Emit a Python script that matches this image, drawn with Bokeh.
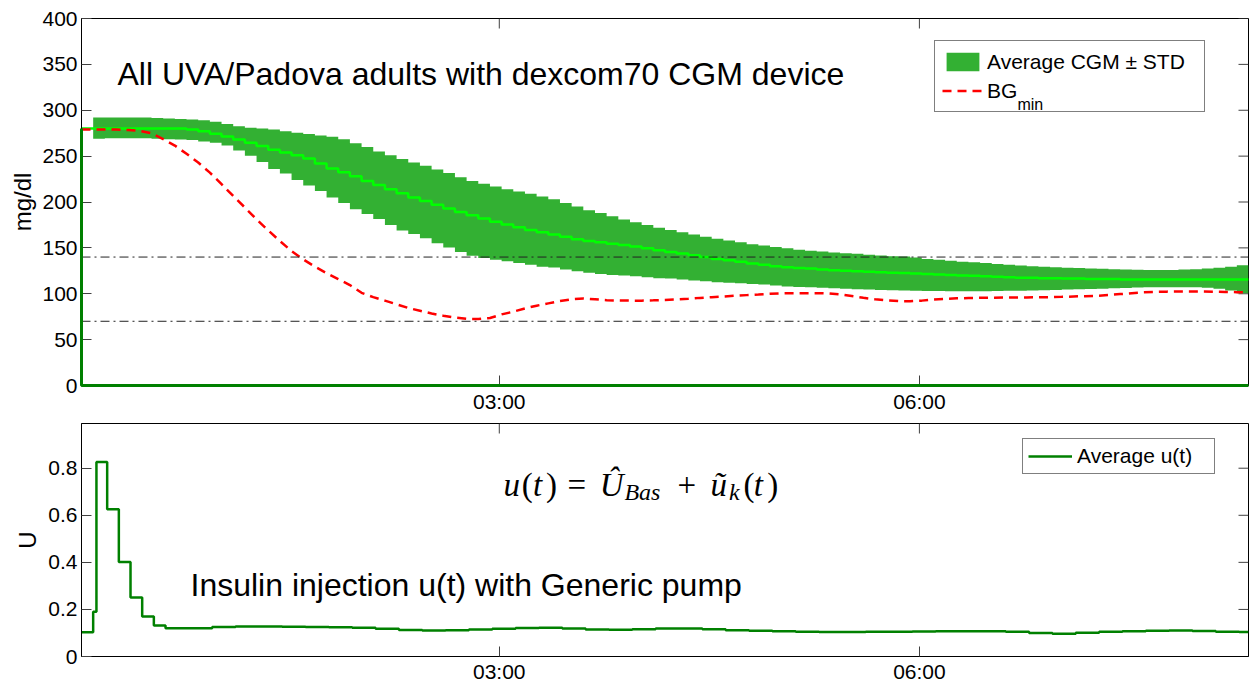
from bokeh.plotting import figure
from bokeh.models import Range1d, FixedTicker, Span, Label, Legend, LegendItem
from bokeh.layouts import column
from bokeh.embed import file_html
from bokeh.resources import INLINE

# ---------------- data ----------------
# CGM sampling times (minutes), every 5 min
t_cgm = list(range(1, 502, 5))
cgm_mean = [280, 280, 280, 280, 280, 280, 280, 280, 280, 279,
            277, 274.5, 271.5, 268, 264.5, 261, 257, 254, 251, 247.5,
            242, 236.5, 232.5, 228, 223, 218.5, 214, 209.5, 205, 201,
            197, 193, 189, 185.5, 182, 178.5, 175.5, 172.5, 169.5, 167,
            164.5, 162, 159.5, 157.5, 156, 154.5, 153, 151.5, 149.5, 147.5,
            145.5, 144, 142, 140, 138, 136.5, 135, 133, 131.5, 130,
            129, 128, 127.5, 126.5, 125.5, 125, 124.5, 124, 123.5, 123,
            122.5, 122, 121.5, 121, 120.5, 120, 119.5, 119, 118.5, 118,
            117.5, 117.5, 117, 117, 116.5, 116.5, 116, 116, 116, 115.5,
            115.5, 115.5, 115.5, 115.5, 115.5, 115.5, 115.5, 115.5, 115.5, 115.5,
            115.5]
# band (mean +/- STD) starts at the second sample
t_band = t_cgm[1:]
cgm_upper = [292, 292, 292, 292, 292, 291.5, 291, 290.5, 290,
             289, 287.5, 285, 282.5, 281, 280, 279, 277, 275.5, 274,
             272.5, 271, 268.5, 264, 260, 255, 251, 247, 243, 239.5,
             235.5, 231.5, 227, 223, 220, 217, 214, 211.5, 209, 206,
             203, 199, 195, 191, 188, 184.5, 181, 178, 175, 172,
             169.5, 167, 164.5, 162, 160, 158, 156, 154, 152.5, 151,
             149.5, 148, 147, 146, 145, 144.2, 143.5, 142.5, 141.8, 141,
             140.5, 139.5, 138, 137, 136, 135, 134.4, 133.5, 132.5, 131.5,
             130.8, 130, 129.5, 129, 128.3, 128, 127.5, 127.2, 126.8, 126.4,
             126.1, 126, 126, 126, 126.3, 126.8, 127.5, 128.3, 129.5, 131,
             132.6]
cgm_lower = [269, 269.5, 269.5, 269.5, 269.5, 269, 268.5, 268, 267.5,
             266, 264.5, 261.5, 256, 250.5, 243.5, 236, 231, 224, 218,
             212, 205, 199, 192, 187, 181.5, 175, 169, 165, 160.5,
             155, 150.5, 145.5, 141.5, 139, 137, 135.5, 133.5, 131.5, 129.5,
             128.5, 126.5, 124.5, 123, 121.5, 120.5, 120, 119, 118, 117,
             116.5, 115.5, 114.5, 113.5, 112.5, 112, 111.5, 110.5, 110, 109,
             108, 107.3, 107, 106.5, 106, 105.4, 105, 104.5, 104, 103.7,
             103.5, 103.3, 103, 103, 102.8, 102.8, 102.8, 102.8, 103, 103.2,
             103.4, 103.5, 103.8, 104.2, 104.6, 105, 105.2, 105.4, 106, 106.4,
             106.8, 107, 107.1, 107.1, 107.1, 107.1, 106.5, 105.5, 103.5, 100.6,
             100.6]
bg_min = [279, 279, 279, 279, 278.5, 277.5, 275, 268.5, 261.5, 252.5,
          243, 232, 219.5, 206.5, 194, 181, 169, 157.5, 146.5, 137.5,
          129.5, 122.5, 116, 109.5, 101, 96.3, 92.5, 88.5, 84.5, 81.5,
          78.5, 76, 74, 72.7, 72.5, 73.5, 77.5, 80.5, 84, 87,
          89.5, 92, 94, 94.8, 94, 93, 92.6, 92.5, 92.5, 92.8,
          93.2, 93.8, 94.5, 95.5, 96.3, 97, 97.8, 98.5, 99.2, 100,
          100.5, 100.6, 100.6, 100.6, 100.3, 99.2, 97.5, 95.6, 94, 92.8,
          92, 91.9, 92.5, 93.8, 94.5, 95, 95.3, 95.6, 95.7, 95.8,
          95.9, 96, 96.1, 96.3, 96.6, 97, 97.4, 97.8, 98.6, 99.6,
          100.6, 101.5, 102, 102.3, 102.5, 102.5, 102.5, 102.3, 102, 101.7,
          101.4]
thresholds = [70, 140]

# insulin u(t): step changes (minutes, units)
u_t = [1, 6, 7.4, 12, 17, 22, 27, 32, 37, 47, 57, 67, 77, 87, 97, 107, 117, 127,
       137, 147, 157, 167, 177, 187, 197, 207, 217, 227, 237, 247, 257, 267, 277,
       287, 297, 307, 317, 327, 337, 347, 357, 367, 377, 387, 397, 407, 417, 427,
       437, 447, 457, 467, 477, 487, 497, 501]
u_val = [0.103, 0.19, 0.826, 0.626, 0.401, 0.251, 0.170, 0.132, 0.120, 0.120,
         0.125, 0.127, 0.127, 0.126, 0.125, 0.124, 0.122, 0.118, 0.113, 0.111,
         0.112, 0.115, 0.118, 0.121, 0.122, 0.119, 0.115, 0.114, 0.116, 0.119,
         0.119, 0.116, 0.112, 0.109, 0.107, 0.105, 0.104, 0.104, 0.105, 0.105,
         0.106, 0.107, 0.107, 0.107, 0.105, 0.100, 0.097, 0.101, 0.105, 0.107,
         0.109, 0.110, 0.108, 0.105, 0.104, 0.104]

time_ticks = [180, 360]
time_tick_labels = ["03:00", "06:00"]
bg_ticks = [0, 50, 100, 150, 200, 250, 300, 350, 400]
u_ticks = [0, 0.2, 0.4, 0.6, 0.8]
u_tick_labels = ["0", "0.2", "0.4", "0.6", "0.8"]

X0, X1 = 1, 501

# ---------------- style ----------------
SANS = "Liberation Sans"
SERIF = "Liberation Serif"
BAND = "#33b033"
MEAN = "#00ff00"
UCOL = "#008000"
TICK = "#404040"
FRAME_W = 1167
TICK_LEN = 10


def style_axes(p, yticks, ylabel, ylabel_standoff, ytop, frame_h, xstandoff, yoverrides=None):
    xa = p.xaxis[0]
    xa.ticker = FixedTicker(ticks=time_ticks)
    xa.major_label_overrides = dict(zip(time_ticks, time_tick_labels))
    ya = p.yaxis[0]
    ya.ticker = FixedTicker(ticks=yticks)
    if yoverrides:
        ya.major_label_overrides = yoverrides
    ya.axis_label = ylabel
    ya.axis_label_standoff = ylabel_standoff
    ya.axis_label_text_font = SANS
    ya.axis_label_text_font_size = "24px"
    ya.axis_label_text_font_style = "normal"
    ya.axis_label_text_color = "black"
    for ax in (xa, ya):
        ax.major_tick_in = TICK_LEN
        ax.major_tick_out = 0
        ax.minor_tick_line_color = None
        ax.major_tick_line_color = TICK
        ax.axis_line_color = "black"
        ax.major_label_text_font = SANS
        ax.major_label_text_font_size = "21px"
        ax.major_label_text_color = "black"
    xa.major_label_standoff = xstandoff
    ya.major_label_standoff = 4
    # mirrored tick marks on the top and right edges of the box
    dy = TICK_LEN * ytop / frame_h
    dx = TICK_LEN * (X1 - X0) / FRAME_W
    p.segment(x0=time_ticks, y0=[ytop] * len(time_ticks), x1=time_ticks,
              y1=[ytop - dy] * len(time_ticks), line_color=TICK, line_width=1)
    p.segment(x0=[X1] * len(yticks), y0=yticks, x1=[X1 - dx] * len(yticks), y1=yticks,
              line_color=TICK, line_width=1)
    p.xgrid.visible = False
    p.ygrid.visible = False
    p.outline_line_color = "black"
    p.outline_line_width = 1
    p.background_fill_color = "white"
    p.border_fill_color = "white"


# ---------------- top panel ----------------
H1 = 367
p1 = figure(frame_width=FRAME_W, frame_height=H1, x_range=Range1d(X0, X1), y_range=Range1d(0, 400),
            output_backend="svg", toolbar_location=None,
            min_border_left=81, min_border_right=1, min_border_top=18, min_border_bottom=30)
style_axes(p1, bg_ticks, "mg/dl", 3, 400, H1, 4)

for v in thresholds:
    p1.add_layout(Span(location=v, dimension="width", line_color="#222222",
                       line_dash="9 4 2 4", line_width=1))

r_band = p1.varea_step(x=t_band, y1=cgm_lower, y2=cgm_upper, step_mode="after",
                       fill_color=BAND)
p1.step(t_cgm, cgm_mean, mode="after", line_color=MEAN, line_width=2.5)
r_red = p1.line(t_cgm, bg_min, line_color="#ff0000", line_width=2.5, line_dash="9 6")
p1.line([t_cgm[-1], t_cgm[0], t_cgm[0]], [0, 0, cgm_mean[0]], line_color=UCOL,
        line_width=3, level="overlay")

p1.add_layout(Label(x=402, y=306, text="min", text_font=SANS, text_font_size="16px",
                    text_color="black", text_baseline="alphabetic"))
leg1 = Legend(items=[LegendItem(label="Average CGM \u00b1 STD", renderers=[r_band]),
                     LegendItem(label="BG", renderers=[r_red])],
              location=(853, 273), orientation="vertical",
              label_text_font=SANS, label_text_font_size="21px", label_text_color="black",
              glyph_width=41, glyph_height=23, label_height=27, label_width=210,
              label_standoff=4, spacing=2, padding=7, margin=0,
              border_line_color="black", border_line_width=1.5,
              background_fill_alpha=0)
p1.add_layout(leg1)
p1.add_layout(Label(x=16.4, y=339, text="All UVA/Padova adults with dexcom70 CGM device",
                    text_font=SANS, text_font_size="32px", text_color="black",
                    text_baseline="alphabetic"))

# ---------------- bottom panel ----------------
H2 = 233
p2 = figure(frame_width=FRAME_W, frame_height=H2, x_range=Range1d(X0, X1), y_range=Range1d(0, 0.99),
            output_backend="svg", toolbar_location=None,
            min_border_left=81, min_border_right=1, min_border_top=8, min_border_bottom=20)
style_axes(p2, u_ticks, "U", 4, 0.99, H2, 3, dict(zip(u_ticks, u_tick_labels)))

r_u = p2.step(u_t, u_val, mode="after", line_color=UCOL, line_width=2.5)

leg2 = Legend(items=[LegendItem(label="Average u(t)", renderers=[r_u])],
              location=(941, 182), label_text_font=SANS, label_text_font_size="21px",
              label_text_color="black",
              glyph_width=44, glyph_height=22, label_height=22, label_width=132,
              label_standoff=5, padding=5, margin=0,
              border_line_color="black", border_line_width=1.5,
              background_fill_color="white", background_fill_alpha=1)
p2.add_layout(leg2)

p2.add_layout(Label(x=47.7, y=0.304, text="Insulin injection u(t) with Generic pump",
                    text_font=SANS, text_font_size="32px", text_color="black",
                    text_baseline="alphabetic"))

# formula  u(t) = Û_Bas + ũ_k(t)
formula = [("u", 181.8, 0.729, "33px", "italic"),
           ("(", 189.6, 0.729, "33px", "normal"),
           ("t", 194.4, 0.729, "33px", "italic"),
           (")", 200.0, 0.729, "33px", "normal"),
           ("=", 209.2, 0.729, "33px", "normal"),
           ("\u00db", 223.0, 0.729, "33px", "italic"),
           ("Bas", 233.6, 0.700, "24px", "italic"),
           ("+", 256.4, 0.729, "33px", "normal"),
           ("\u0169", 270.5, 0.729, "33px", "italic"),
           ("k", 278.4, 0.700, "24px", "italic"),
           ("(", 284.6, 0.729, "33px", "normal"),
           ("t", 289.0, 0.729, "33px", "italic"),
           (")", 294.8, 0.729, "33px", "normal")]
for txt, fx, fy, fs, st in formula:
    p2.add_layout(Label(x=fx, y=fy, text=txt, text_font=SERIF, text_font_size=fs,
                        text_font_style=st, text_color="black", text_baseline="alphabetic"))

layout = column(p1, p2, spacing=0)
open("out.html", "w").write(file_html(layout, INLINE))
